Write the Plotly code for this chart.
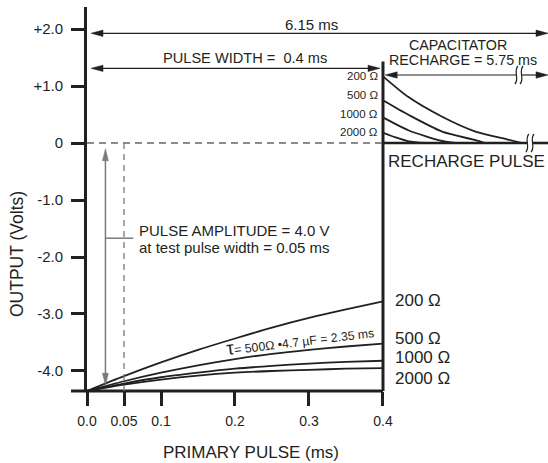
import plotly.graph_objects as go

# ---------------- data ----------------
t_primary = [0.0, 0.05, 0.1, 0.15, 0.2, 0.25, 0.3, 0.35, 0.4]
v_200 = [-4.35, -4.09, -3.85, -3.63, -3.43, -3.24, -3.07, -2.92, -2.78]
v_500 = [-4.35, -4.18, -4.03, -3.90, -3.79, -3.70, -3.63, -3.57, -3.52]
v_1000 = [-4.35, -4.22, -4.11, -4.03, -3.96, -3.91, -3.87, -3.84, -3.82]
v_2000 = [-4.35, -4.24, -4.15, -4.08, -4.03, -4.00, -3.98, -3.96, -3.95]

t_rc_200 = [0.40, 0.434, 0.48, 0.525, 0.569, 0.588]
v_rc_200 = [1.17, 0.81, 0.46, 0.20, 0.06, 0.0]
t_rc_500 = [0.40, 0.435, 0.48, 0.525, 0.538]
v_rc_500 = [0.75, 0.49, 0.20, 0.05, 0.0]
t_rc_1000 = [0.40, 0.435, 0.48, 0.498]
v_rc_1000 = [0.45, 0.22, 0.035, 0.0]
t_rc_2000 = [0.40, 0.417, 0.435, 0.457]
v_rc_2000 = [0.18, 0.10, 0.03, 0.0]

load_labels = ["200 Ω", "500 Ω", "1000 Ω", "2000 Ω"]

x_tickvals = [0.0, 0.05, 0.1, 0.2, 0.3, 0.4]
x_ticktext = ["0.0", "0.05", "0.1", "0.2", "0.3", "0.4"]
y_tickvals = [2, 1, 0, -1, -2, -3, -4]
y_ticktext = ["+2.0", "+1.0", "0", "-1.0", "-2.0", "-3.0", "-4.0"]

pulse_width = 0.4
test_width = 0.05

# ---------------- style ----------------
INK = "#231f20"
GRAY = "#7a7a7a"
FONT = "Liberation Sans, Arial, sans-serif"
XMAX = 0.623
YMIN, YMAX = -4.351, 2.386
PX = XMAX / 461.0          # x-units per pixel
PY = (YMAX - YMIN) / 384.0  # y-units per pixel

fig = go.Figure()

for t, v in [(t_primary, v_200), (t_primary, v_500), (t_primary, v_1000), (t_primary, v_2000),
             (t_rc_200, v_rc_200), (t_rc_500, v_rc_500), (t_rc_1000, v_rc_1000), (t_rc_2000, v_rc_2000)]:
    fig.add_trace(go.Scatter(x=t, y=v, mode="lines", hoverinfo="skip", cliponaxis=False,
                             line=dict(color=INK, width=1.8, shape="spline", smoothing=0.7)))

shapes = []


def line(x0, y0, x1, y1, color=INK, width=1.3, dash=None, xref="x", yref="y"):
    d = dict(type="line", x0=x0, y0=y0, x1=x1, y1=y1, xref=xref, yref=yref,
             line=dict(color=color, width=width))
    if dash:
        d["line"]["dash"] = dash
    shapes.append(d)


def head(xt, yt, direction, color=INK, L=12, W=3.2):
    # triangle arrow head with tip at (xt, yt)
    if direction == "left":
        pts = [(xt, yt), (xt + L * PX, yt + W * PY), (xt + L * PX, yt - W * PY)]
    elif direction == "right":
        pts = [(xt, yt), (xt - L * PX, yt + W * PY), (xt - L * PX, yt - W * PY)]
    elif direction == "up":
        pts = [(xt, yt), (xt - W * PX, yt - L * PY), (xt + W * PX, yt - L * PY)]
    else:
        pts = [(xt, yt), (xt - W * PX, yt + L * PY), (xt + W * PX, yt + L * PY)]
    path = "M {},{} L {},{} L {},{} Z".format(*[c for p in pts for c in p])
    shapes.append(dict(type="path", path=path, xref="x", yref="y",
                       fillcolor=color, line=dict(color=color, width=0.5)))


def brk(xc, yc, color=INK):
    for off in (-2.6, 2.6):
        x = xc + off * PX
        p = "M {},{} C {},{} {},{} {},{}".format(
            x - 1.5 * PX, yc - 9 * PY,
            x + 3.5 * PX, yc - 3 * PY,
            x - 3.5 * PX, yc + 3 * PY,
            x + 1.5 * PX, yc + 9 * PY)
        shapes.append(dict(type="path", path=p, xref="x", yref="y",
                           line=dict(color=color, width=1.2)))


# x axis line (extends a bit left of y axis)
shapes.append(dict(type="line", xref="paper", yref="paper", x0=-16 / 461.0, x1=pulse_width / XMAX,
                   y0=0, y1=0, line=dict(color=INK, width=3)))
# vertical line at end of pulse
line(pulse_width, 1.43, pulse_width, YMIN, width=3)
# zero line: dashed during pulse, solid afterwards (with break)
line(0, 0, pulse_width, 0, color="#666666", width=1.4, dash="7px,5px")
bx = 0.5986
line(pulse_width, 0, bx - 2.6 * PX, 0, width=2.6)
line(bx + 2.6 * PX, 0, XMAX, 0, width=2.6)
brk(bx, 0)
# dashed line at test pulse width
line(test_width, 0, test_width, YMIN, color=GRAY, width=1.3, dash="6px,5px")

# 6.15 ms arrow
y615 = 1.925
line(0.0054 + 6 * PX, y615, XMAX - 6 * PX, y615, width=1.2)
head(0.0054, y615, "left")
head(XMAX, y615, "right")
# pulse width arrow
ypw = 1.31
line(0.0054 + 6 * PX, ypw, 0.396 - 6 * PX, ypw, width=1.2)
head(0.0054, ypw, "left")
head(0.396, ypw, "right")
# recharge arrow with break
yrc = 1.193
abx = 0.5838
line(0.403 + 6 * PX, yrc, abx - 2.6 * PX, yrc, width=1.2)
line(abx + 2.6 * PX, yrc, XMAX - 6 * PX, yrc, width=1.2)
head(0.403, yrc, "left")
head(XMAX, yrc, "right")
brk(abx, yrc)
# pulse amplitude arrow (gray)
xa = 0.0249
line(xa, -0.1 - 6 * PY, xa, -4.25 + 6 * PY, color=GRAY, width=1.5)
head(xa, -0.1, "up", color=GRAY, L=12, W=3)
head(xa, -4.25, "down", color=GRAY, L=12, W=3)
line(xa, -1.67, 0.0626, -1.67, color=GRAY, width=1.5)

annotations = []


def txt(x, y, s, size=15, xanchor="center", yanchor="middle", xshift=0, yshift=0, angle=0,
        xref="x", yref="y"):
    annotations.append(dict(x=x, y=y, text=s, showarrow=False, xref=xref, yref=yref,
                            xanchor=xanchor, yanchor=yanchor, xshift=xshift, yshift=yshift,
                            textangle=angle, font=dict(family=FONT, size=size, color=INK)))


txt(0.303, 2.08, "6.15 ms", 15)
txt(0.2135, 1.50, "PULSE WIDTH =\u00a0 0.4 ms", 14.6)
txt(0.502, 1.72, "CAPACITATOR", 14.3)
txt(0.508, 1.456, "RECHARGE = 5.75 ms", 14.3)

for lab, yv in zip(load_labels, [1.17, 0.84, 0.51, 0.19]):
    txt(pulse_width, yv, lab, 11.5, xanchor="right", xshift=-3)
for lab, yv in zip(load_labels, [-2.77, -3.43, -3.76, -4.13]):
    txt(pulse_width, yv, lab, 17, xanchor="left", xshift=10)

txt(pulse_width, -0.33, "RECHARGE PULSE", 17, xanchor="left", xshift=3)
txt(0.0705, -1.53, "PULSE AMPLITUDE = 4.0 V", 15, xanchor="left", xshift=-2)
txt(0.0705, -1.84, "at test pulse width = 0.05 ms", 15, xanchor="left", xshift=-2)
txt(0.288, -3.45, "<span style='font-size:19px'>τ</span>= 500Ω •4.7 µF = 2.35 ms", 12.3, angle=-7)

# axis titles
txt(0, 0, "PRIMARY PULSE (ms)", 17, xref="paper", yref="paper")
annotations[-1].update(x=(251 - 87) / 461.0, y=-(452 - 391) / 384.0)
txt(0, 0, "OUTPUT (Volts)", 17.5, angle=-90, xref="paper", yref="paper")
annotations[-1].update(x=(17 - 87) / 461.0, y=(391 - 254) / 384.0)

fig.update_layout(
    width=548, height=463,
    margin=dict(l=87, r=0, t=7, b=72, autoexpand=False),
    paper_bgcolor="white", plot_bgcolor="white",
    showlegend=False,
    shapes=shapes, annotations=annotations,
    xaxis=dict(range=[0, XMAX], tickvals=x_tickvals, ticktext=x_ticktext,
               ticks="outside", ticklen=14, tickwidth=3, tickcolor=INK,
               showgrid=False, zeroline=False, showline=False, fixedrange=True,
               tickfont=dict(family=FONT, size=14, color=INK), ticklabelstandoff=3),
    yaxis=dict(range=[YMIN, YMAX], tickvals=y_tickvals, ticktext=y_ticktext,
               ticks="outside", ticklen=13, tickwidth=3, tickcolor=INK,
               showgrid=False, zeroline=False, showline=True, linewidth=3, linecolor=INK,
               fixedrange=True, tickfont=dict(family=FONT, size=15, color=INK),
               ticklabelstandoff=5),
)

fig.write_html("out.html", config={"displayModeBar": False})

# remove the browser's default page margin so the figure sits at the window's corner
with open("out.html", "r", encoding="utf-8") as f:
    html = f.read()
html = html.replace("<head>", "<head><style>html,body{margin:0;padding:0;overflow:hidden;}</style>", 1)
with open("out.html", "w", encoding="utf-8") as f:
    f.write(html)
